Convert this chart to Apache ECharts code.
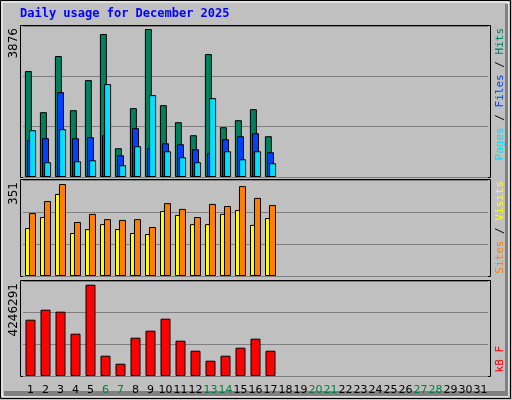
<!DOCTYPE html>
<html><head><meta charset="utf-8">
<script src="https://cdn.jsdelivr.net/npm/echarts@6/dist/echarts.min.js"></script>
<style>html,body{margin:0;padding:0;background:#c0c0c0}#c{width:512px;height:400px}</style>
</head><body><div id="c"></div>
<script>
const days = Array.from({length:31},(_,i)=>String(i+1));
const weekend = ['6','7','13','14','20','21','27','28'];
const hits  = [2774,1698,3167,1750,2537,3745,753,1803,3876,1881,1435,1094,3220,1304,1488,1776,1068];
const files = [971,1015,2223,1015,1042,1094,569,1278,753,884,858,727,622,989,1068,1147,648];
const pages = [1225,386,1252,412,438,2433,307,806,2144,674,517,386,2065,674,464,674,360];
const visits= [240,286,351,206,237,217,214,217,187,278,256,225,275,267,343,298,271];
const sites = [183,225,313,164,179,198,179,164,160,248,233,198,198,237,252,195,221];
const kbytes= [2618000,3084000,2991000,1968000,4246291,944000,572000,1781000,2107000,2665000,1642000,1177000,712000,944000,1316000,1735000,1177000];

const ch = echarts.init(document.getElementById('c'));
const panels = [[26,151],[180,96],[281,95]];
const grids = panels.map(p=>({left:23,width:465,top:p[0],height:p[1],show:false}));
function xa(i,show){return {type:'category',gridIndex:i,data:days,axisTick:{show:false},axisLine:{show:false},
  axisLabel:{show:show,interval:0,fontFamily:'DejaVu Sans',fontSize:11,margin:9,
   color:(v)=>weekend.includes(v)?'#008040':'#000'}};}
function ya(i,max){return {type:'value',gridIndex:i,min:0,max:max,interval:max/3,axisLabel:{show:false},
  axisLine:{show:false},axisTick:{show:false},splitLine:{lineStyle:{color:'#808080',width:1}}};}
const bs = (c)=>({color:c,borderColor:'#000',borderWidth:1});
const frames = panels.map(p=>({type:'rect',z:-10,shape:{x:20.5,y:p[0]-0.5,width:470,height:p[1]+1},style:{fill:'#c0c0c0',stroke:'#000',lineWidth:1}}));
const rich11 = c=>({fill:c,font:'11px DejaVu Sans Mono'});
ch.setOption({
  animation:false,
  backgroundColor:'#c0c0c0',
  grid:grids,
  xAxis:[xa(0,false),xa(1,false),xa(2,true)],
  yAxis:[ya(0,3876*151/148),ya(1,351*96/92),ya(2,4246291*95/91.3)],
  series:[
    {type:'bar',xAxisIndex:0,yAxisIndex:0,data:hits,barWidth:7,barGap:'-70%',itemStyle:bs('#00805c')},
    {type:'bar',xAxisIndex:0,yAxisIndex:0,data:files,barWidth:7,barGap:'-70%',itemStyle:bs('#0040ff')},
    {type:'bar',xAxisIndex:0,yAxisIndex:0,data:pages,barWidth:7,barGap:'-70%',itemStyle:bs('#00e0ff')},
    {type:'bar',xAxisIndex:1,yAxisIndex:1,data:sites,barWidth:7,barGap:'-43%',itemStyle:bs('#ffff00')},
    {type:'bar',xAxisIndex:1,yAxisIndex:1,data:visits,barWidth:7,barGap:'-43%',itemStyle:bs('#ff8000')},
    {type:'bar',xAxisIndex:2,yAxisIndex:2,data:kbytes,barWidth:10,itemStyle:bs('#ff0000')}
  ],
  graphic:frames.concat([
    {type:'rect',shape:{x:0.5,y:0.5,width:510,height:398},style:{fill:'none',stroke:'#000',lineWidth:1}},
    {type:'rect',shape:{x:2,y:2,width:506,height:394},style:{fill:'none',stroke:'#fff',lineWidth:1}},
    {type:'rect',shape:{x:4,y:391,width:504,height:5},style:{fill:'#808080'}},
    {type:'rect',shape:{x:505,y:4,width:3,height:392},style:{fill:'#808080'}},
    {type:'text',left:20,top:8,style:{text:'Daily usage for December 2025',font:'bold 12px "DejaVu Sans Mono"',fill:'#0000ff'}},
    {type:'text',x:14,y:28,rotation:Math.PI/2,style:{text:'3876',font:'12px DejaVu Sans',fill:'#000',align:'right',verticalAlign:'middle'}},
    {type:'text',x:14,y:182,rotation:Math.PI/2,style:{text:'351',font:'12px DejaVu Sans',fill:'#000',align:'right',verticalAlign:'middle'}},
    {type:'text',x:14,y:283,rotation:Math.PI/2,style:{text:'4246291',font:'12px DejaVu Sans',fill:'#000',align:'right',verticalAlign:'middle'}},
    {type:'text',x:500,y:28,rotation:Math.PI/2,style:{text:'{a|Pages}{k| / }{b|Files}{k| / }{c|Hits}',font:'11px DejaVu Sans Mono',align:'right',verticalAlign:'middle',
      rich:{a:rich11('#00e0ff'),b:rich11('#0040ff'),c:rich11('#00805c'),k:rich11('#000')}}},
    {type:'text',x:500,y:181,rotation:Math.PI/2,style:{text:'{a|Sites}{k| / }{b|Visits}',font:'11px DejaVu Sans Mono',align:'right',verticalAlign:'middle',
      rich:{a:rich11('#ff8000'),b:rich11('#ffff00'),k:rich11('#000')}}},
    {type:'text',x:500,y:346,rotation:Math.PI/2,style:{text:'kB F',font:'11px DejaVu Sans Mono',fill:'#ff0000',align:'right',verticalAlign:'middle'}}
  ])
});
</script></body></html>
